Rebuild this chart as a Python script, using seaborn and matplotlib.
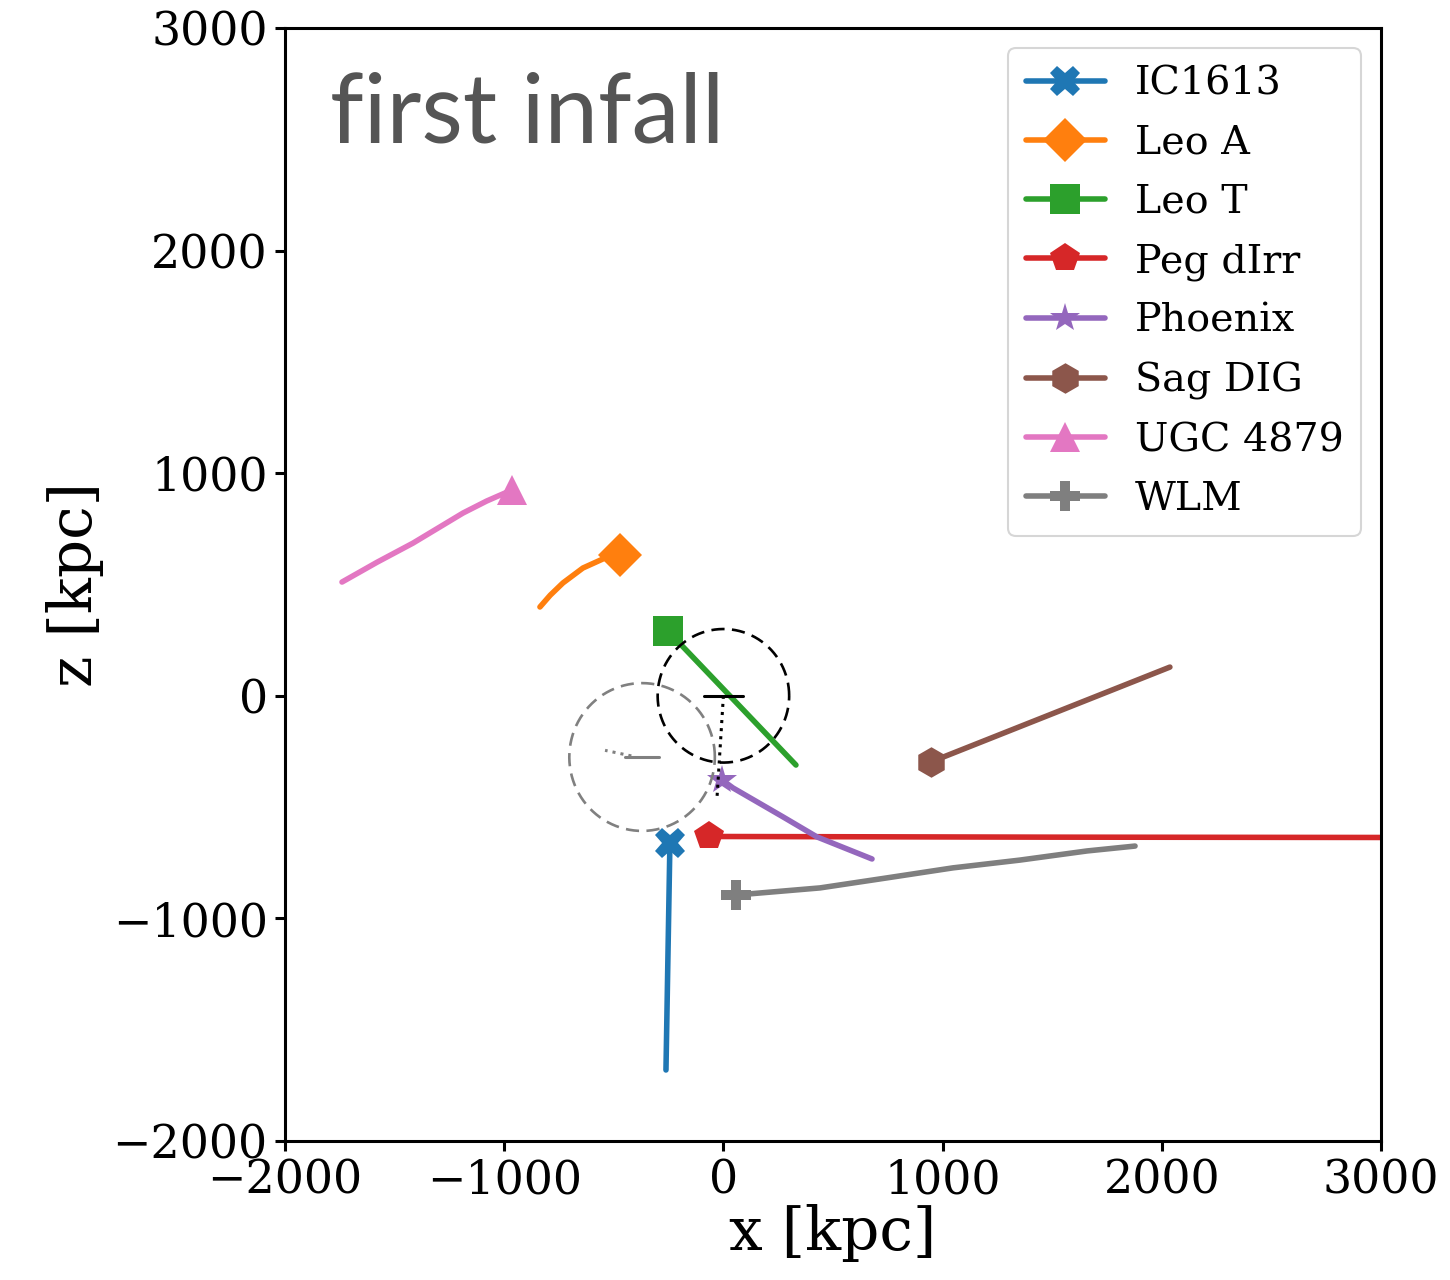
import numpy as np
import pandas as pd
import matplotlib
matplotlib.use("Agg")
import matplotlib.pyplot as plt
import seaborn as sns

# Orbit tracks in the x-z plane (kpc); the first point of each track is the present-day position
galaxies = ["IC1613", "Leo A", "Leo T", "Peg dIrr", "Phoenix", "Sag DIG", "UGC 4879", "WLM"]

ic1613_x = [-244, -253, -262]
ic1613_z = [-661, -1170, -1681]

leoa_x = [-472, -540, -641, -732, -790, -837]
leoa_z = [633, 619, 574, 507, 452, 399]

leot_x = [-253, 331]
leot_z = [291, -311]

pegdirr_x = [-66, 1500, 3600]
pegdirr_z = [-632, -635, -637]

phoenix_x = [-6, 44, 272, 427, 678]
phoenix_z = [-378, -414, -544, -634, -733]

sagdig_x = [947, 2037]
sagdig_z = [-297, 129]

ugc4879_x = [-964, -1080, -1188, -1416, -1580, -1740]
ugc4879_z = [925, 875, 821, 686, 600, 511]

wlm_x = [57, 441, 746, 1047, 1353, 1659, 1878]
wlm_z = [-895, -863, -818, -773, -738, -697, -675]

tracks_x = [ic1613_x, leoa_x, leot_x, pegdirr_x, phoenix_x, sagdig_x, ugc4879_x, wlm_x]
tracks_z = [ic1613_z, leoa_z, leot_z, pegdirr_z, phoenix_z, sagdig_z, ugc4879_z, wlm_z]
markers = ["X", "D", "s", "p", "*", "h", "^", "P"]
colors = sns.color_palette("tab10", 8)

# Milky Way and M31: centres, virial-radius circles, disc widths and past tracks
mw_center = (0, 0)
mw_radius = 300
mw_disc_half = 90
mw_track_x = [0, -30]
mw_track_z = [0, -470]

m31_center = (-371, -275)
m31_radius = 332
m31_disc_half = 77
m31_track_x = [-420, -540]
m31_track_z = [-270, -245]

TRACK_LW = 4.0

frames = []
for name, xs, zs in zip(galaxies, tracks_x, tracks_z):
    frames.append(pd.DataFrame({"x": xs, "z": zs, "galaxy": name}))
df = pd.concat(frames, ignore_index=True)

sns.set_theme(style="ticks")
plt.rcParams["font.family"] = ["DejaVu Serif"]
plt.rcParams["axes.linewidth"] = 2.2
plt.rcParams["xtick.major.width"] = 2.2
plt.rcParams["ytick.major.width"] = 2.2
plt.rcParams["xtick.major.size"] = 7.5
plt.rcParams["ytick.major.size"] = 7.5
plt.rcParams["axes.edgecolor"] = "black"
plt.rcParams["text.color"] = "black"
plt.rcParams["axes.labelcolor"] = "black"
plt.rcParams["xtick.color"] = "black"
plt.rcParams["ytick.color"] = "black"

fig = plt.figure(figsize=(14.5, 12.8), dpi=100)
ax = fig.add_axes([285 / 1450, 1 - 1141 / 1280, (1381 - 285) / 1450, (1141 - 28) / 1280])

track_lines = []
for name, mk, col in zip(galaxies, markers, colors):
    sub = df[df["galaxy"] == name]
    n_before = len(ax.lines)
    sns.lineplot(data=sub, x="x", y="z", sort=False, estimator=None, ax=ax,
                 color=col, marker=mk, markevery=[0], markersize=22,
                 markeredgewidth=0, label=name, legend=False)
    track_lines.extend(ax.lines[n_before:])

for ln in track_lines:
    ln.set_linewidth(TRACK_LW)

theta = np.linspace(0, 2 * np.pi, 400)
ax.plot(mw_center[0] + mw_radius * np.cos(theta), mw_center[1] + mw_radius * np.sin(theta),
        color="black", ls="--", lw=1.9, dashes=(5, 2.8))
ax.plot([mw_center[0] - mw_disc_half, mw_center[0] + mw_disc_half], [mw_center[1]] * 2,
        color="black", lw=2.2)
ax.plot(mw_track_x, mw_track_z, color="black", ls=":", lw=2.2)

ax.plot(m31_center[0] + m31_radius * np.cos(theta), m31_center[1] + m31_radius * np.sin(theta),
        color="grey", ls="--", lw=1.9, dashes=(5, 2.8))
ax.plot([m31_center[0] - m31_disc_half, m31_center[0] + m31_disc_half], [m31_center[1]] * 2,
        color="grey", lw=2.2)
ax.plot(m31_track_x, m31_track_z, color="grey", ls=":", lw=2.2)

ax.set_xlim(-2000, 3000)
ax.set_ylim(-2000, 3000)
ax.set_xticks([-2000, -1000, 0, 1000, 2000, 3000])
ax.set_yticks([-2000, -1000, 0, 1000, 2000, 3000])
ax.tick_params(labelsize=33, colors="black", pad=5)
ax.set_xlabel("x [kpc]", fontsize=43, labelpad=0)
ax.set_ylabel("z [kpc]", fontsize=43, labelpad=6)

ax.text(0.041, 0.897, "first infall", transform=ax.transAxes, fontsize=69,
        color="#555555", family="Lato", va="baseline", ha="left")

leg = ax.legend(handles=track_lines, labels=galaxies, loc="upper right", fontsize=28.5,
                frameon=True, fancybox=True, handlelength=2.0, handletextpad=0.75,
                labelspacing=0.56, borderaxespad=0.5, borderpad=0.45)
leg.get_frame().set_edgecolor("#cccccc")
leg.get_frame().set_linewidth(1.5)
for t in leg.get_texts():
    t.set_color("black")

# keep the orbit tracks at full width once the legend is built
for ln in track_lines:
    ln.set_linewidth(TRACK_LW)
for ln in leg.get_lines():
    ln.set_linewidth(TRACK_LW)

fig.savefig("out.png", dpi=100)
